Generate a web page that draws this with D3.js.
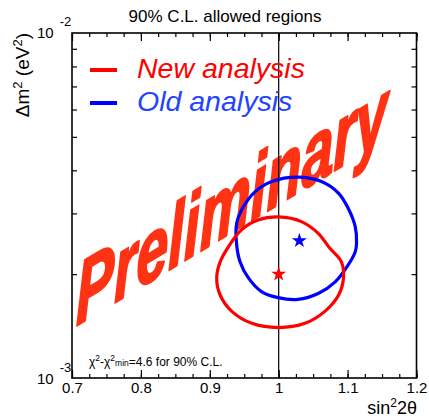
<!DOCTYPE html>
<html>
<head>
<meta charset="utf-8">
<script src="https://cdn.jsdelivr.net/npm/d3@7"></script>
<style>
  body { margin: 0; background: #fff; }
  text { font-family: "Liberation Sans", Arial, sans-serif; }
</style>
</head>
<body>
<div id="chart"></div>
<script>
// x axis (sin^2 2theta)
var xMajor = [0.7, 0.8, 0.9, 1.0, 1.1, 1.2];
var xMajorLabels = ["0.7", "0.8", "0.9", "1", "1.1", "1.2"];
var xMinor = d3.range(0.7, 1.2001, 0.025);
// y axis (dm^2, eV^2)
var yMinor = [2e-3, 3e-3, 4e-3, 5e-3, 6e-3, 7e-3, 8e-3, 9e-3];
var yLabelValues = [1e-3, 1e-2];
var yLabelExps = ["-3", "-2"];

// 90% C.L. contours [sin^2 2theta, dm^2]
var newContour = [
  [1.000, 2.93e-3], [1.033, 2.84e-3], [1.057, 2.63e-3], [1.074, 2.38e-3],
  [1.091, 2.17e-3], [1.094, 1.95e-3], [1.087, 1.74e-3], [1.067, 1.56e-3],
  [1.038, 1.44e-3], [1.000, 1.40e-3], [0.961, 1.44e-3], [0.932, 1.56e-3],
  [0.915, 1.74e-3], [0.910, 1.95e-3], [0.915, 2.17e-3], [0.927, 2.40e-3],
  [0.946, 2.69e-3], [0.970, 2.87e-3]
];
var oldContour = [
  [1.028, 3.82e-3], [1.062, 3.71e-3], [1.087, 3.43e-3], [1.101, 3.10e-3],
  [1.111, 2.75e-3], [1.113, 2.46e-3], [1.111, 2.32e-3], [1.099, 2.10e-3],
  [1.082, 1.90e-3], [1.058, 1.76e-3], [1.028, 1.69e-3], [0.999, 1.71e-3],
  [0.975, 1.78e-3], [0.956, 1.95e-3], [0.944, 2.17e-3], [0.939, 2.43e-3],
  [0.939, 2.81e-3], [0.949, 3.14e-3], [0.966, 3.47e-3], [0.990, 3.71e-3]
];
var bestFits = [
  {name: "New analysis", x: 1.000, y: 2.00e-3, color: "#ff0000"},
  {name: "Old analysis", x: 1.030, y: 2.50e-3, color: "#0000ff"}
];
var legendNames = ["New analysis", "Old analysis"];
var legendColors = ["#ff0000", "#0000ff"];
var legendTextColors = ["#ff0000", "#2244ff"];

var svg = d3.select("#chart").append("svg")
    .attr("width", 429)
    .attr("height", 420),
    margin = {top: 33, right: 12.5, bottom: 42, left: 72},
    width = 429 - margin.left - margin.right,
    height = 420 - margin.top - margin.bottom;

var x = d3.scaleLinear().domain([0.7, 1.2]).range([margin.left, margin.left + width]);
var y = d3.scaleLog().domain([1e-3, 1e-2]).range([margin.top + height, margin.top]);

// Preliminary watermark
svg.append("text")
    .attr("transform", "translate(76,326) skewY(-31) scale(0.65,1)")
    .attr("font-size", 88)
    .attr("font-weight", "bold")
    .attr("font-style", "italic")
    .attr("fill", "#ff3314")
    .attr("stroke", "#ff3314")
    .attr("stroke-width", 2.5)
    .attr("stroke-linejoin", "round")
    .text("Preliminary");

// axes: ticks pointing inward
function noLabels(a) { return a.tickFormat(""); }
svg.append("g").attr("transform", "translate(0," + (margin.top + height) + ")")
    .call(noLabels(d3.axisBottom(x).tickValues(xMinor).tickSize(-4).tickSizeOuter(0)));
svg.append("g").attr("transform", "translate(0," + (margin.top + height) + ")")
    .call(d3.axisBottom(x).tickValues(xMajor).tickSize(-8).tickSizeOuter(0)
      .tickFormat(function(d, i) { return xMajorLabels[i]; }))
    .call(function(g) {
      g.selectAll("text").attr("dy", null).attr("y", 15).attr("font-size", 15)
        .attr("font-family", "Liberation Sans, Arial, sans-serif");
    });
svg.append("g").attr("transform", "translate(0," + margin.top + ")")
    .call(noLabels(d3.axisTop(x).tickValues(xMinor).tickSize(-4).tickSizeOuter(0)));
svg.append("g").attr("transform", "translate(0," + margin.top + ")")
    .call(noLabels(d3.axisTop(x).tickValues(xMajor).tickSize(-8).tickSizeOuter(0)));
svg.append("g").attr("transform", "translate(" + margin.left + ",0)")
    .call(noLabels(d3.axisLeft(y).tickValues(yMinor).tickSize(-5).tickSizeOuter(0)));
svg.append("g").attr("transform", "translate(" + (margin.left + width) + ",0)")
    .call(noLabels(d3.axisRight(y).tickValues(yMinor).tickSize(-5).tickSizeOuter(0)));
svg.selectAll(".domain").remove();
svg.selectAll(".tick line").attr("stroke", "#000").attr("stroke-width", 1.2);

// frame
svg.append("rect")
    .attr("x", margin.left).attr("y", margin.top)
    .attr("width", width).attr("height", height)
    .attr("fill", "none").attr("stroke", "#000").attr("stroke-width", 1.6);

// y labels 10^-3, 10^-2
yLabelValues.forEach(function(v, i) {
  var t = svg.append("text")
      .attr("x", 37).attr("y", y(v) + (i == 0 ? 6 : 5))
      .attr("font-size", 15);
  t.append("tspan").text("10");
  t.append("tspan").attr("dx", 6).attr("dy", -12).attr("font-size", 13).text(yLabelExps[i]);
});

// vertical line at sin^2 2theta = 1
svg.append("line")
    .attr("x1", x(1)).attr("x2", x(1))
    .attr("y1", margin.top).attr("y2", margin.top + height)
    .attr("stroke", "#000").attr("stroke-width", 1.2);

// contours
var line = d3.line()
    .x(function(d) { return x(d[0]); })
    .y(function(d) { return y(d[1]); })
    .curve(d3.curveCatmullRomClosed);

svg.append("path").datum(oldContour)
    .attr("d", line).attr("fill", "none")
    .attr("stroke", "#0000ff").attr("stroke-width", 3.2);
svg.append("path").datum(newContour)
    .attr("d", line).attr("fill", "none")
    .attr("stroke", "#ff0000").attr("stroke-width", 3.2);

// best fit stars
svg.selectAll(".star").data(bestFits).enter().append("path")
    .attr("class", "star")
    .attr("transform", function(d) { return "translate(" + x(d.x) + "," + y(d.y) + ")"; })
    .attr("d", d3.symbol().type(d3.symbolStar).size(70))
    .attr("fill", function(d) { return d.color; });

// legend
var legend = svg.selectAll(".legend").data(legendNames).enter().append("g")
    .attr("class", "legend")
    .attr("transform", function(d, i) { return "translate(0," + (70 + i * 33) + ")"; });
legend.append("line")
    .attr("x1", 90).attr("x2", 117)
    .attr("stroke", function(d, i) { return legendColors[i]; })
    .attr("stroke-width", 4);
legend.append("text")
    .attr("x", 137).attr("y", 8)
    .attr("font-size", 28.5)
    .attr("font-style", "italic")
    .attr("fill", function(d, i) { return legendTextColors[i]; })
    .text(function(d) { return d; });

// title
svg.append("text")
    .attr("x", 225).attr("y", 22)
    .attr("text-anchor", "middle")
    .attr("font-size", 17)
    .text("90% C.L. allowed regions");

// y axis title
var yt = svg.append("text")
    .attr("transform", "translate(29,33) rotate(-90)")
    .attr("text-anchor", "end")
    .attr("font-size", 19);
yt.append("tspan").text("\u0394m");
yt.append("tspan").attr("dy", -7).attr("font-size", 13).text("2");
yt.append("tspan").attr("dy", 7).text(" (eV");
yt.append("tspan").attr("dy", -7).attr("font-size", 13).text("2");
yt.append("tspan").attr("dy", 7).text(")");

// x axis title
var xt = svg.append("text")
    .attr("x", 417).attr("y", 414)
    .attr("text-anchor", "end")
    .attr("font-size", 18);
xt.append("tspan").text("sin");
xt.append("tspan").attr("dy", -7).attr("font-size", 12).text("2");
xt.append("tspan").attr("dy", 7).text("2\u03b8");

// chi2 note
var note = svg.append("text")
    .attr("x", 89).attr("y", 366)
    .attr("font-size", 12);
note.append("tspan").text("\u03c7");
note.append("tspan").attr("dy", -5).attr("font-size", 8.5).text("2");
note.append("tspan").attr("dy", 5).text("-\u03c7");
note.append("tspan").attr("dy", -5).attr("font-size", 8.5).text("2");
note.append("tspan").attr("dy", 5).attr("font-size", 8.5).text("min");
note.append("tspan").text("=4.6 for 90% C.L.");
</script>
</body>
</html>
